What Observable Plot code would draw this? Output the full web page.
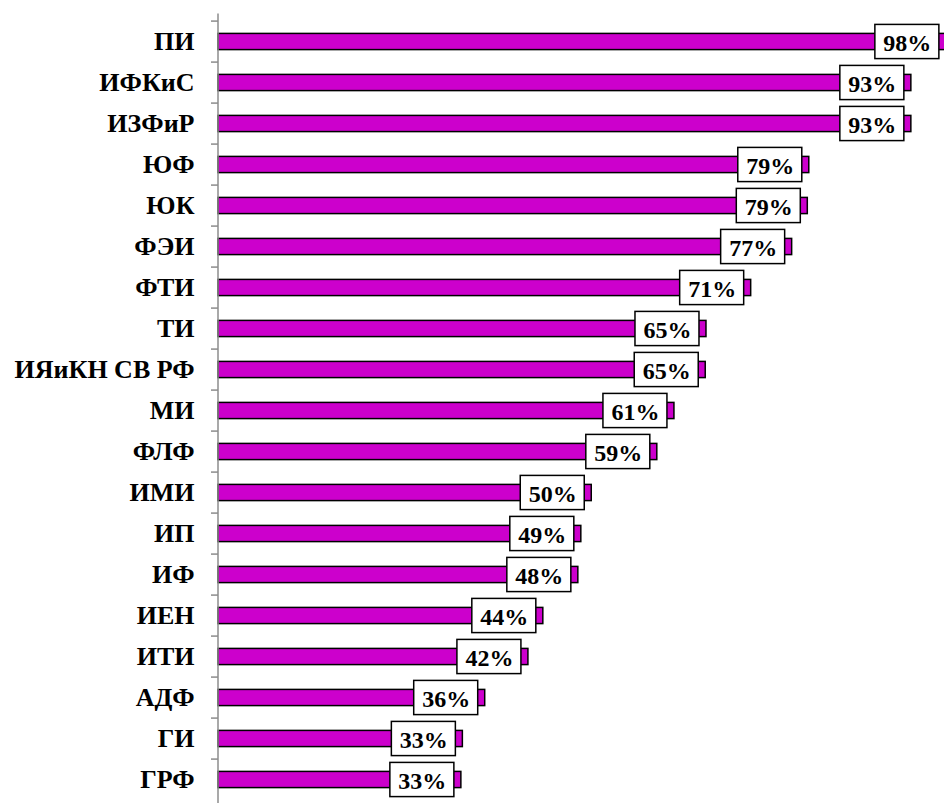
<!DOCTYPE html>
<html>
<head>
<meta charset="utf-8">
<script src="https://cdn.jsdelivr.net/npm/d3@7"></script>
<script src="https://cdn.jsdelivr.net/npm/@observablehq/plot@0.6"></script>
<style>
  html, body { margin: 0; padding: 0; background: #fff; overflow: hidden; }
</style>
</head>
<body>
<div id="chart"></div>
<script>
const categories = ["ПИ", "ИФКиС", "ИЗФиР", "ЮФ", "ЮК", "ФЭИ", "ФТИ", "ТИ", "ИЯиКН СВ РФ", "МИ", "ФЛФ", "ИМИ", "ИП", "ИФ", "ИЕН", "ИТИ", "АДФ", "ГИ", "ГРФ"];
const values = [97.7, 93.0, 93.0, 79.3, 79.1, 77.0, 71.5, 65.5, 65.4, 61.2, 58.9, 50.1, 48.7, 48.3, 43.6, 41.6, 35.8, 32.8, 32.6];
const labels = ["98%", "93%", "93%", "79%", "79%", "77%", "71%", "65%", "65%", "61%", "59%", "50%", "49%", "48%", "44%", "42%", "36%", "33%", "33%"];

const data = categories.map((name, i) => ({name, value: values[i], label: labels[i]}));

const W = 944, H = 808, mt = 13.6, ml = 218;
const step = (H - mt) / categories.length;
const barH = 17, boxH = 35;
const font = "'Liberation Serif', 'Times New Roman', serif";

const chart = Plot.plot({
  width: W,
  height: H,
  marginTop: mt,
  marginBottom: 0,
  marginLeft: ml,
  marginRight: 0,
  style: {fontFamily: font, color: "#000", background: "#fff"},
  x: {domain: [0, (W - ml) / 7.45], axis: null},
  y: {domain: categories, padding: 0, axis: null},
  marks: [
    Plot.barX(data, {
      x1: 0, x2: "value", y: "name",
      fill: "#CC00CC", stroke: "#000", strokeWidth: 1.5,
      insetTop: (step - barH) / 2, insetBottom: (step - barH) / 2
    }),
    Plot.barX(data, {
      x1: "value", x2: "value", y: "name",
      insetLeft: -71, insetRight: 7,
      insetTop: (step - boxH) / 2, insetBottom: (step - boxH) / 2,
      fill: "#fff", stroke: "#000", strokeWidth: 1.5
    }),
    Plot.text(data, {
      x: "value", y: "name", text: "label", dx: -39, dy: 1,
      fontSize: 24, fontWeight: "bold", fontFamily: font, fill: "#000"
    }),
    Plot.ruleX([0], {stroke: "#8c8c8c", strokeWidth: 1.5, dx: -0.5}),
    Plot.axisY({anchor: "left", label: null, tickSize: 7, dy: -step / 2, text: null, stroke: "#8c8c8c", strokeWidth: 1.5}),
    Plot.axisY({anchor: "left", label: null, tickSize: 0, tickPadding: 24, fontSize: 26, fontWeight: "bold", fontFamily: font, fill: "#000"})
  ]
});
document.getElementById("chart").appendChild(chart);
</script>
</body>
</html>
